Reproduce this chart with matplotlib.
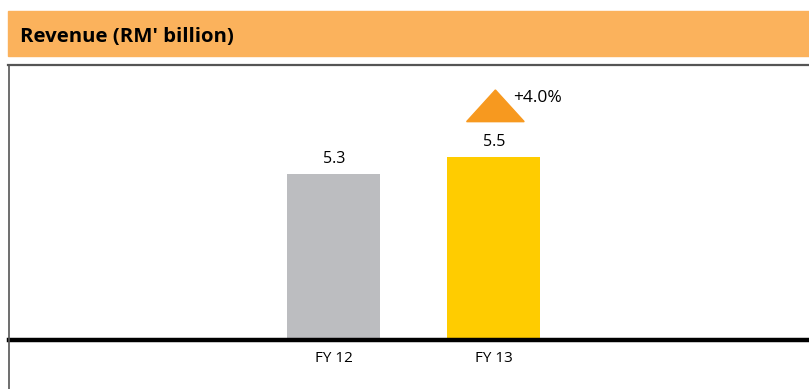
import matplotlib
matplotlib.use('Agg')
import matplotlib.pyplot as plt
from matplotlib.patches import Rectangle, Polygon
from matplotlib.lines import Line2D

years = ["FY 12", "FY 13"]
revenue = [5.3, 5.5]
bar_colors = ["#bcbdc0", "#ffcc00"]
growth_label = "+4.0%"

fig = plt.figure(figsize=(8.09, 3.89), dpi=100)
W, H = 809.0, 389.0

# header band
fig.patches.append(Rectangle((8 / W, 1 - 56 / H), 801 / W, 45 / H,
                             transform=fig.transFigure, color="#fbb25c", zorder=0))
fig.text(20 / W, 1 - 37 / H, "Revenue (RM' billion)", fontsize=14.7,
         fontweight="bold", family="Open Sans", va="center", ha="left")

# frame lines (top and left)
fig.lines.append(Line2D([8 / W, 1], [1 - 65 / H, 1 - 65 / H], transform=fig.transFigure,
                        color="#555555", lw=1.6))
fig.lines.append(Line2D([8.5 / W, 8.5 / W], [0, 1 - 65 / H], transform=fig.transFigure,
                        color="#555555", lw=1.2))

ax = fig.add_axes([9 / W, 1 - 340 / H, 800 / W, (340 - 66) / H])
x = list(range(len(years)))
bars = ax.bar(x, revenue, width=0.58, color=bar_colors)
ax.set_xlim(-2.03, 2.97)
ax.set_ylim(3.36, 6.56)

for xi, v in zip(x, revenue):
    ax.annotate(f"{v:.1f}", (xi, v), xytext=(0, 5), textcoords="offset points",
                ha="center", va="bottom", fontsize=11.5, family="Open Sans")

# growth arrow above the latest bar
tri_base = 5.91
tri_top = 6.28
tri = Polygon([(x[1] - 0.18 + 0.01, tri_base), (x[1] + 0.19, tri_base), (x[1] + 0.01, tri_top)],
              closed=True, color="#f7991f", clip_on=False)
ax.add_patch(tri)
ax.text(x[1] + 0.12, 6.19, growth_label, ha="left", va="center", fontsize=12.5,
        family="Open Sans")

ax.set_xticks(x)
ax.set_xticklabels(years, fontsize=11, family="Open Sans")
ax.tick_params(axis="x", length=0, pad=8)
ax.set_yticks([])
for s in ["top", "left", "right"]:
    ax.spines[s].set_visible(False)
ax.spines["bottom"].set_linewidth(3.2)
ax.spines["bottom"].set_color("black")

fig.savefig("out.png", dpi=100)
